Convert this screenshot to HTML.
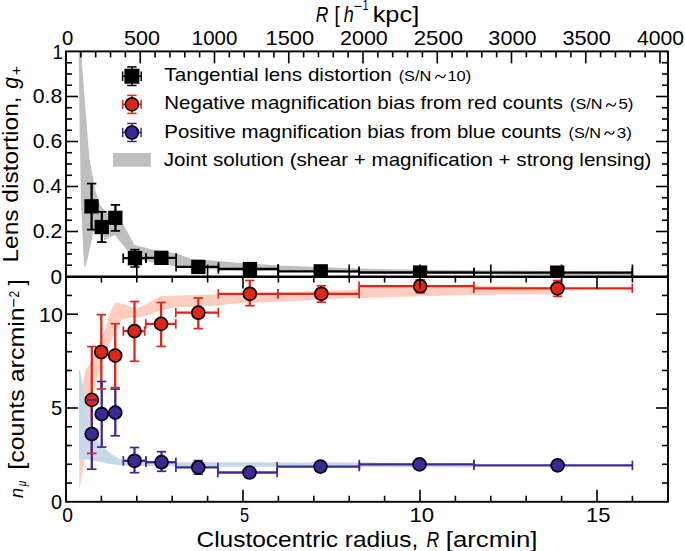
<!DOCTYPE html>
<html><head><meta charset="utf-8"><style>
html,body{margin:0;padding:0;background:#fff;}
svg{display:block;}
text{font-family:"Liberation Sans",sans-serif;fill:#000;}
</style></head><body>
<svg width="685" height="551" viewBox="0 0 685 551">
<defs><clipPath id="ctop"><rect x="0" y="0" width="685" height="276.50"/></clipPath></defs>
<rect width="685" height="551" fill="#fff"/>
<polygon points="78.7,51.4 81.2,51.4 85.0,104.0 89.5,159.0 95.5,191.0 100.4,205.4 105.0,211.0 110.0,215.0 116.0,220.0 123.0,224.0 134.5,245.0 154.0,250.0 176.0,253.3 191.0,258.8 217.6,261.0 244.0,263.2 280.0,265.6 316.0,267.0 359.0,268.6 400.0,269.4 474.0,270.3 560.0,271.0 632.0,271.5 632.0,275.5 560.0,275.3 474.0,274.0 400.0,273.6 359.0,273.0 316.0,272.2 280.0,270.5 244.0,270.5 191.0,268.5 176.0,266.5 150.0,262.0 140.0,259.0 127.5,251.0 115.0,235.0 110.0,237.0 104.5,240.5 103.0,233.0 95.0,231.5 93.4,232.0 91.0,243.0 88.7,254.0 86.6,262.5 84.8,268.7 83.4,254.4 81.0,200.0 80.0,150.0 79.2,100.0 78.7,51.4" fill="#bfbfbf"/>
<polygon points="79.0,400.0 83.8,378.0 85.8,370.0 91.4,361.3 94.7,350.4 98.0,345.0 103.4,334.3 106.2,326.2 108.3,318.0 115.2,302.3 125.0,304.5 130.0,306.5 136.6,309.0 150.0,302.0 161.0,296.0 218.0,294.3 235.0,294.0 250.0,293.0 320.0,291.0 355.0,290.0 362.0,286.3 420.0,285.5 474.0,285.5 520.0,286.5 557.0,287.0 557.0,294.5 520.0,294.5 474.0,295.0 420.0,296.3 359.0,298.0 340.0,298.5 320.0,299.8 250.0,303.0 230.0,304.1 218.0,305.4 198.0,306.8 175.0,307.3 161.0,310.5 146.8,315.5 136.6,318.0 130.0,317.4 121.7,320.0 114.0,334.0 108.9,345.2 104.0,360.0 99.5,370.0 93.6,391.6 90.0,420.0 86.0,445.0 84.7,459.0 79.3,490.0" fill="#fdcdbf"/>
<polygon points="79.0,370.0 80.0,370.0 90.0,427.0 95.6,436.0 99.3,443.6 112.0,454.5 120.0,459.3 135.0,460.8 150.0,461.5 180.0,462.2 359.0,462.6 474.0,463.6 474.0,467.3 359.0,466.9 180.0,466.5 150.0,466.1 124.0,465.5 109.0,464.0 91.0,459.8 79.0,459.3" fill="#c6d9ea"/>
<g clip-path="url(#ctop)">
<line x1="91.6" y1="183.6" x2="91.6" y2="229.6" stroke="#000" stroke-width="2.3"/>
<line x1="101.8" y1="211.8" x2="101.8" y2="242.1" stroke="#000" stroke-width="2.3"/>
<line x1="115.4" y1="204.9" x2="115.4" y2="230.9" stroke="#000" stroke-width="2.3"/>
<line x1="123.2" y1="258.2" x2="145.9" y2="258.2" stroke="#000" stroke-width="2.3"/><line x1="134.9" y1="249.7" x2="134.9" y2="267.0" stroke="#000" stroke-width="2.3"/>
<line x1="145.9" y1="257.9" x2="176.1" y2="257.9" stroke="#000" stroke-width="2.3"/>
<line x1="176.1" y1="266.9" x2="218.5" y2="266.9" stroke="#000" stroke-width="2.3"/>
<line x1="218.4" y1="269.0" x2="278.0" y2="269.0" stroke="#000" stroke-width="2.3"/>
<line x1="278.0" y1="271.3" x2="359.1" y2="271.3" stroke="#000" stroke-width="2.3"/>
<line x1="359.1" y1="272.5" x2="474.0" y2="272.5" stroke="#000" stroke-width="2.3"/>
<line x1="474.0" y1="272.6" x2="632.3" y2="272.6" stroke="#000" stroke-width="2.3"/>
<line x1="86.9" y1="183.6" x2="96.3" y2="183.6" stroke="#000" stroke-width="1.7"/><line x1="86.9" y1="229.6" x2="96.3" y2="229.6" stroke="#000" stroke-width="1.7"/>
<line x1="97.1" y1="211.8" x2="106.5" y2="211.8" stroke="#000" stroke-width="1.7"/><line x1="97.1" y1="242.1" x2="106.5" y2="242.1" stroke="#000" stroke-width="1.7"/>
<line x1="110.7" y1="204.9" x2="120.1" y2="204.9" stroke="#000" stroke-width="1.7"/><line x1="110.7" y1="230.9" x2="120.1" y2="230.9" stroke="#000" stroke-width="1.7"/>
<line x1="123.2" y1="253.5" x2="123.2" y2="262.9" stroke="#000" stroke-width="1.7"/><line x1="145.9" y1="253.5" x2="145.9" y2="262.9" stroke="#000" stroke-width="1.7"/><line x1="130.2" y1="249.7" x2="139.6" y2="249.7" stroke="#000" stroke-width="1.7"/><line x1="130.2" y1="267.0" x2="139.6" y2="267.0" stroke="#000" stroke-width="1.7"/>
<line x1="145.9" y1="253.2" x2="145.9" y2="262.6" stroke="#000" stroke-width="1.7"/><line x1="176.1" y1="253.2" x2="176.1" y2="262.6" stroke="#000" stroke-width="1.7"/>
<line x1="176.1" y1="262.2" x2="176.1" y2="271.6" stroke="#000" stroke-width="1.7"/><line x1="218.5" y1="262.2" x2="218.5" y2="271.6" stroke="#000" stroke-width="1.7"/>
<line x1="218.4" y1="264.3" x2="218.4" y2="273.7" stroke="#000" stroke-width="1.7"/><line x1="278.0" y1="264.3" x2="278.0" y2="273.7" stroke="#000" stroke-width="1.7"/>
<line x1="278.0" y1="266.6" x2="278.0" y2="276.0" stroke="#000" stroke-width="1.7"/><line x1="359.1" y1="266.6" x2="359.1" y2="276.0" stroke="#000" stroke-width="1.7"/>
<line x1="359.1" y1="267.8" x2="359.1" y2="277.2" stroke="#000" stroke-width="1.7"/><line x1="474.0" y1="267.8" x2="474.0" y2="277.2" stroke="#000" stroke-width="1.7"/>
<line x1="474.0" y1="267.9" x2="474.0" y2="277.3" stroke="#000" stroke-width="1.7"/><line x1="632.3" y1="267.9" x2="632.3" y2="277.3" stroke="#000" stroke-width="1.7"/>
<rect x="84.4" y="199.2" width="14.3" height="14.3" fill="#000"/>
<rect x="94.6" y="219.9" width="14.3" height="14.3" fill="#000"/>
<rect x="108.2" y="210.7" width="14.3" height="14.3" fill="#000"/>
<rect x="127.8" y="251.0" width="14.3" height="14.3" fill="#000"/>
<rect x="154.2" y="250.7" width="14.3" height="14.3" fill="#000"/>
<rect x="191.2" y="259.8" width="14.3" height="14.3" fill="#000"/>
<rect x="242.8" y="261.9" width="14.3" height="14.3" fill="#000"/>
<rect x="313.6" y="264.2" width="14.3" height="14.3" fill="#000"/>
<rect x="412.9" y="265.4" width="14.3" height="14.3" fill="#000"/>
<rect x="550.1" y="265.5" width="14.3" height="14.3" fill="#000"/>
</g>
<line x1="91.8" y1="346.6" x2="91.8" y2="453.4" stroke="#e0261b" stroke-width="2.3"/>
<line x1="101.3" y1="314.7" x2="101.3" y2="389.0" stroke="#e0261b" stroke-width="2.3"/>
<line x1="115.2" y1="323.7" x2="115.2" y2="387.6" stroke="#e0261b" stroke-width="2.3"/>
<line x1="123.3" y1="331.1" x2="144.7" y2="331.1" stroke="#e0261b" stroke-width="2.3"/><line x1="134.5" y1="301.5" x2="134.5" y2="361.3" stroke="#e0261b" stroke-width="2.3"/>
<line x1="145.8" y1="323.9" x2="175.8" y2="323.9" stroke="#e0261b" stroke-width="2.3"/><line x1="161.1" y1="302.5" x2="161.1" y2="346.4" stroke="#e0261b" stroke-width="2.3"/>
<line x1="175.8" y1="312.7" x2="218.3" y2="312.7" stroke="#e0261b" stroke-width="2.3"/><line x1="198.3" y1="298.0" x2="198.3" y2="328.6" stroke="#e0261b" stroke-width="2.3"/>
<line x1="218.3" y1="293.8" x2="277.8" y2="293.8" stroke="#e0261b" stroke-width="2.3"/><line x1="249.8" y1="280.5" x2="249.8" y2="305.7" stroke="#e0261b" stroke-width="2.3"/>
<line x1="277.8" y1="293.8" x2="359.1" y2="293.8" stroke="#e0261b" stroke-width="2.3"/><line x1="321.3" y1="285.8" x2="321.3" y2="302.2" stroke="#e0261b" stroke-width="2.3"/>
<line x1="359.1" y1="286.2" x2="473.8" y2="286.2" stroke="#e0261b" stroke-width="2.3"/><line x1="420.2" y1="279.8" x2="420.2" y2="292.8" stroke="#e0261b" stroke-width="2.3"/>
<line x1="473.8" y1="288.4" x2="632.3" y2="288.4" stroke="#e0261b" stroke-width="2.3"/><line x1="557.5" y1="280.5" x2="557.5" y2="296.3" stroke="#e0261b" stroke-width="2.3"/>
<line x1="91.8" y1="400.0" x2="91.8" y2="469.2" stroke="#3a2a97" stroke-width="2.3"/>
<line x1="101.7" y1="381.5" x2="101.7" y2="447.1" stroke="#3a2a97" stroke-width="2.3"/>
<line x1="115.3" y1="389.1" x2="115.3" y2="435.8" stroke="#3a2a97" stroke-width="2.3"/>
<line x1="123.3" y1="460.8" x2="145.9" y2="460.8" stroke="#3a2a97" stroke-width="2.3"/><line x1="134.5" y1="447.5" x2="134.5" y2="472.7" stroke="#3a2a97" stroke-width="2.3"/>
<line x1="145.9" y1="462.2" x2="175.9" y2="462.2" stroke="#3a2a97" stroke-width="2.3"/><line x1="161.5" y1="451.7" x2="161.5" y2="471.3" stroke="#3a2a97" stroke-width="2.3"/>
<line x1="175.9" y1="467.4" x2="217.9" y2="467.4" stroke="#3a2a97" stroke-width="2.3"/><line x1="198.3" y1="460.6" x2="198.3" y2="474.2" stroke="#3a2a97" stroke-width="2.3"/>
<line x1="217.9" y1="472.5" x2="277.1" y2="472.5" stroke="#3a2a97" stroke-width="2.3"/>
<line x1="277.1" y1="466.6" x2="359.3" y2="466.6" stroke="#3a2a97" stroke-width="2.3"/>
<line x1="359.3" y1="464.4" x2="473.9" y2="464.4" stroke="#3a2a97" stroke-width="2.3"/>
<line x1="473.9" y1="465.4" x2="632.4" y2="465.4" stroke="#3a2a97" stroke-width="2.3"/>
<line x1="87.0" y1="346.6" x2="96.5" y2="346.6" stroke="#e0261b" stroke-width="1.7"/><line x1="87.0" y1="453.4" x2="96.5" y2="453.4" stroke="#e0261b" stroke-width="1.7"/>
<line x1="96.6" y1="314.7" x2="106.0" y2="314.7" stroke="#e0261b" stroke-width="1.7"/><line x1="96.6" y1="389.0" x2="106.0" y2="389.0" stroke="#e0261b" stroke-width="1.7"/>
<line x1="110.5" y1="323.7" x2="119.9" y2="323.7" stroke="#e0261b" stroke-width="1.7"/><line x1="110.5" y1="387.6" x2="119.9" y2="387.6" stroke="#e0261b" stroke-width="1.7"/>
<line x1="123.3" y1="326.4" x2="123.3" y2="335.8" stroke="#e0261b" stroke-width="1.7"/><line x1="144.7" y1="326.4" x2="144.7" y2="335.8" stroke="#e0261b" stroke-width="1.7"/><line x1="129.8" y1="301.5" x2="139.2" y2="301.5" stroke="#e0261b" stroke-width="1.7"/><line x1="129.8" y1="361.3" x2="139.2" y2="361.3" stroke="#e0261b" stroke-width="1.7"/>
<line x1="145.8" y1="319.2" x2="145.8" y2="328.6" stroke="#e0261b" stroke-width="1.7"/><line x1="175.8" y1="319.2" x2="175.8" y2="328.6" stroke="#e0261b" stroke-width="1.7"/><line x1="156.4" y1="302.5" x2="165.8" y2="302.5" stroke="#e0261b" stroke-width="1.7"/><line x1="156.4" y1="346.4" x2="165.8" y2="346.4" stroke="#e0261b" stroke-width="1.7"/>
<line x1="175.8" y1="308.0" x2="175.8" y2="317.4" stroke="#e0261b" stroke-width="1.7"/><line x1="218.3" y1="308.0" x2="218.3" y2="317.4" stroke="#e0261b" stroke-width="1.7"/><line x1="193.6" y1="298.0" x2="203.0" y2="298.0" stroke="#e0261b" stroke-width="1.7"/><line x1="193.6" y1="328.6" x2="203.0" y2="328.6" stroke="#e0261b" stroke-width="1.7"/>
<line x1="218.3" y1="289.1" x2="218.3" y2="298.5" stroke="#e0261b" stroke-width="1.7"/><line x1="277.8" y1="289.1" x2="277.8" y2="298.5" stroke="#e0261b" stroke-width="1.7"/><line x1="245.1" y1="280.5" x2="254.5" y2="280.5" stroke="#e0261b" stroke-width="1.7"/><line x1="245.1" y1="305.7" x2="254.5" y2="305.7" stroke="#e0261b" stroke-width="1.7"/>
<line x1="277.8" y1="289.1" x2="277.8" y2="298.5" stroke="#e0261b" stroke-width="1.7"/><line x1="359.1" y1="289.1" x2="359.1" y2="298.5" stroke="#e0261b" stroke-width="1.7"/><line x1="316.6" y1="285.8" x2="326.0" y2="285.8" stroke="#e0261b" stroke-width="1.7"/><line x1="316.6" y1="302.2" x2="326.0" y2="302.2" stroke="#e0261b" stroke-width="1.7"/>
<line x1="359.1" y1="281.5" x2="359.1" y2="290.9" stroke="#e0261b" stroke-width="1.7"/><line x1="473.8" y1="281.5" x2="473.8" y2="290.9" stroke="#e0261b" stroke-width="1.7"/><line x1="415.5" y1="279.8" x2="424.9" y2="279.8" stroke="#e0261b" stroke-width="1.7"/><line x1="415.5" y1="292.8" x2="424.9" y2="292.8" stroke="#e0261b" stroke-width="1.7"/>
<line x1="473.8" y1="283.7" x2="473.8" y2="293.1" stroke="#e0261b" stroke-width="1.7"/><line x1="632.3" y1="283.7" x2="632.3" y2="293.1" stroke="#e0261b" stroke-width="1.7"/><line x1="552.8" y1="280.5" x2="562.2" y2="280.5" stroke="#e0261b" stroke-width="1.7"/><line x1="552.8" y1="296.3" x2="562.2" y2="296.3" stroke="#e0261b" stroke-width="1.7"/>
<circle cx="91.8" cy="399.9" r="6.5" fill="#e0261b" stroke="#000" stroke-width="1.7"/>
<circle cx="101.3" cy="352.0" r="6.5" fill="#e0261b" stroke="#000" stroke-width="1.7"/>
<circle cx="115.2" cy="355.6" r="6.5" fill="#e0261b" stroke="#000" stroke-width="1.7"/>
<circle cx="134.5" cy="331.1" r="6.5" fill="#e0261b" stroke="#000" stroke-width="1.7"/>
<circle cx="161.1" cy="323.9" r="6.5" fill="#e0261b" stroke="#000" stroke-width="1.7"/>
<circle cx="198.3" cy="312.7" r="6.5" fill="#e0261b" stroke="#000" stroke-width="1.7"/>
<circle cx="249.8" cy="293.8" r="6.5" fill="#e0261b" stroke="#000" stroke-width="1.7"/>
<circle cx="321.3" cy="293.8" r="6.5" fill="#e0261b" stroke="#000" stroke-width="1.7"/>
<circle cx="420.2" cy="286.2" r="6.5" fill="#e0261b" stroke="#000" stroke-width="1.7"/>
<circle cx="557.5" cy="288.4" r="6.5" fill="#e0261b" stroke="#000" stroke-width="1.7"/>
<line x1="87.0" y1="400.0" x2="96.5" y2="400.0" stroke="#3a2a97" stroke-width="1.7"/><line x1="87.0" y1="469.2" x2="96.5" y2="469.2" stroke="#3a2a97" stroke-width="1.7"/>
<line x1="97.0" y1="381.5" x2="106.4" y2="381.5" stroke="#3a2a97" stroke-width="1.7"/><line x1="97.0" y1="447.1" x2="106.4" y2="447.1" stroke="#3a2a97" stroke-width="1.7"/>
<line x1="110.6" y1="389.1" x2="120.0" y2="389.1" stroke="#3a2a97" stroke-width="1.7"/><line x1="110.6" y1="435.8" x2="120.0" y2="435.8" stroke="#3a2a97" stroke-width="1.7"/>
<line x1="123.3" y1="456.1" x2="123.3" y2="465.5" stroke="#3a2a97" stroke-width="1.7"/><line x1="145.9" y1="456.1" x2="145.9" y2="465.5" stroke="#3a2a97" stroke-width="1.7"/><line x1="129.8" y1="447.5" x2="139.2" y2="447.5" stroke="#3a2a97" stroke-width="1.7"/><line x1="129.8" y1="472.7" x2="139.2" y2="472.7" stroke="#3a2a97" stroke-width="1.7"/>
<line x1="145.9" y1="457.5" x2="145.9" y2="466.9" stroke="#3a2a97" stroke-width="1.7"/><line x1="175.9" y1="457.5" x2="175.9" y2="466.9" stroke="#3a2a97" stroke-width="1.7"/><line x1="156.8" y1="451.7" x2="166.2" y2="451.7" stroke="#3a2a97" stroke-width="1.7"/><line x1="156.8" y1="471.3" x2="166.2" y2="471.3" stroke="#3a2a97" stroke-width="1.7"/>
<line x1="175.9" y1="462.7" x2="175.9" y2="472.1" stroke="#3a2a97" stroke-width="1.7"/><line x1="217.9" y1="462.7" x2="217.9" y2="472.1" stroke="#3a2a97" stroke-width="1.7"/><line x1="193.6" y1="460.6" x2="203.0" y2="460.6" stroke="#3a2a97" stroke-width="1.7"/><line x1="193.6" y1="474.2" x2="203.0" y2="474.2" stroke="#3a2a97" stroke-width="1.7"/>
<line x1="217.9" y1="467.8" x2="217.9" y2="477.2" stroke="#3a2a97" stroke-width="1.7"/><line x1="277.1" y1="467.8" x2="277.1" y2="477.2" stroke="#3a2a97" stroke-width="1.7"/>
<line x1="277.1" y1="461.9" x2="277.1" y2="471.3" stroke="#3a2a97" stroke-width="1.7"/><line x1="359.3" y1="461.9" x2="359.3" y2="471.3" stroke="#3a2a97" stroke-width="1.7"/>
<line x1="359.3" y1="459.7" x2="359.3" y2="469.1" stroke="#3a2a97" stroke-width="1.7"/><line x1="473.9" y1="459.7" x2="473.9" y2="469.1" stroke="#3a2a97" stroke-width="1.7"/>
<line x1="473.9" y1="460.7" x2="473.9" y2="470.1" stroke="#3a2a97" stroke-width="1.7"/><line x1="632.4" y1="460.7" x2="632.4" y2="470.1" stroke="#3a2a97" stroke-width="1.7"/>
<circle cx="91.8" cy="434.0" r="6.5" fill="#3a2a97" stroke="#000" stroke-width="1.7"/>
<circle cx="101.7" cy="414.1" r="6.5" fill="#3a2a97" stroke="#000" stroke-width="1.7"/>
<circle cx="115.3" cy="412.6" r="6.5" fill="#3a2a97" stroke="#000" stroke-width="1.7"/>
<circle cx="134.5" cy="460.8" r="6.5" fill="#3a2a97" stroke="#000" stroke-width="1.7"/>
<circle cx="161.5" cy="462.2" r="6.5" fill="#3a2a97" stroke="#000" stroke-width="1.7"/>
<circle cx="198.3" cy="467.4" r="6.5" fill="#3a2a97" stroke="#000" stroke-width="1.7"/>
<circle cx="249.5" cy="472.5" r="6.5" fill="#3a2a97" stroke="#000" stroke-width="1.7"/>
<circle cx="320.5" cy="466.6" r="6.5" fill="#3a2a97" stroke="#000" stroke-width="1.7"/>
<circle cx="419.5" cy="464.4" r="6.5" fill="#3a2a97" stroke="#000" stroke-width="1.7"/>
<circle cx="557.6" cy="465.4" r="6.5" fill="#3a2a97" stroke="#000" stroke-width="1.7"/>
<line x1="80.85" y1="51.40" x2="80.85" y2="57.40" stroke="#000" stroke-width="1.6"/>
<line x1="95.70" y1="51.40" x2="95.70" y2="57.40" stroke="#000" stroke-width="1.6"/>
<line x1="110.55" y1="51.40" x2="110.55" y2="57.40" stroke="#000" stroke-width="1.6"/>
<line x1="125.40" y1="51.40" x2="125.40" y2="57.40" stroke="#000" stroke-width="1.6"/>
<line x1="140.25" y1="51.40" x2="140.25" y2="63.40" stroke="#000" stroke-width="1.6"/>
<line x1="155.10" y1="51.40" x2="155.10" y2="57.40" stroke="#000" stroke-width="1.6"/>
<line x1="169.95" y1="51.40" x2="169.95" y2="57.40" stroke="#000" stroke-width="1.6"/>
<line x1="184.80" y1="51.40" x2="184.80" y2="57.40" stroke="#000" stroke-width="1.6"/>
<line x1="199.65" y1="51.40" x2="199.65" y2="57.40" stroke="#000" stroke-width="1.6"/>
<line x1="214.50" y1="51.40" x2="214.50" y2="63.40" stroke="#000" stroke-width="1.6"/>
<line x1="229.35" y1="51.40" x2="229.35" y2="57.40" stroke="#000" stroke-width="1.6"/>
<line x1="244.20" y1="51.40" x2="244.20" y2="57.40" stroke="#000" stroke-width="1.6"/>
<line x1="259.05" y1="51.40" x2="259.05" y2="57.40" stroke="#000" stroke-width="1.6"/>
<line x1="273.90" y1="51.40" x2="273.90" y2="57.40" stroke="#000" stroke-width="1.6"/>
<line x1="288.75" y1="51.40" x2="288.75" y2="63.40" stroke="#000" stroke-width="1.6"/>
<line x1="303.60" y1="51.40" x2="303.60" y2="57.40" stroke="#000" stroke-width="1.6"/>
<line x1="318.45" y1="51.40" x2="318.45" y2="57.40" stroke="#000" stroke-width="1.6"/>
<line x1="333.30" y1="51.40" x2="333.30" y2="57.40" stroke="#000" stroke-width="1.6"/>
<line x1="348.15" y1="51.40" x2="348.15" y2="57.40" stroke="#000" stroke-width="1.6"/>
<line x1="363.00" y1="51.40" x2="363.00" y2="63.40" stroke="#000" stroke-width="1.6"/>
<line x1="377.85" y1="51.40" x2="377.85" y2="57.40" stroke="#000" stroke-width="1.6"/>
<line x1="392.70" y1="51.40" x2="392.70" y2="57.40" stroke="#000" stroke-width="1.6"/>
<line x1="407.55" y1="51.40" x2="407.55" y2="57.40" stroke="#000" stroke-width="1.6"/>
<line x1="422.40" y1="51.40" x2="422.40" y2="57.40" stroke="#000" stroke-width="1.6"/>
<line x1="437.25" y1="51.40" x2="437.25" y2="63.40" stroke="#000" stroke-width="1.6"/>
<line x1="452.10" y1="51.40" x2="452.10" y2="57.40" stroke="#000" stroke-width="1.6"/>
<line x1="466.95" y1="51.40" x2="466.95" y2="57.40" stroke="#000" stroke-width="1.6"/>
<line x1="481.80" y1="51.40" x2="481.80" y2="57.40" stroke="#000" stroke-width="1.6"/>
<line x1="496.65" y1="51.40" x2="496.65" y2="57.40" stroke="#000" stroke-width="1.6"/>
<line x1="511.50" y1="51.40" x2="511.50" y2="63.40" stroke="#000" stroke-width="1.6"/>
<line x1="526.35" y1="51.40" x2="526.35" y2="57.40" stroke="#000" stroke-width="1.6"/>
<line x1="541.20" y1="51.40" x2="541.20" y2="57.40" stroke="#000" stroke-width="1.6"/>
<line x1="556.05" y1="51.40" x2="556.05" y2="57.40" stroke="#000" stroke-width="1.6"/>
<line x1="570.90" y1="51.40" x2="570.90" y2="57.40" stroke="#000" stroke-width="1.6"/>
<line x1="585.75" y1="51.40" x2="585.75" y2="63.40" stroke="#000" stroke-width="1.6"/>
<line x1="600.60" y1="51.40" x2="600.60" y2="57.40" stroke="#000" stroke-width="1.6"/>
<line x1="615.45" y1="51.40" x2="615.45" y2="57.40" stroke="#000" stroke-width="1.6"/>
<line x1="630.30" y1="51.40" x2="630.30" y2="57.40" stroke="#000" stroke-width="1.6"/>
<line x1="645.15" y1="51.40" x2="645.15" y2="57.40" stroke="#000" stroke-width="1.6"/>
<line x1="660.00" y1="51.40" x2="660.00" y2="63.40" stroke="#000" stroke-width="1.6"/>
<line x1="66.00" y1="265.25" x2="72.00" y2="265.25" stroke="#000" stroke-width="1.6"/>
<line x1="668.00" y1="265.25" x2="662.00" y2="265.25" stroke="#000" stroke-width="1.6"/>
<line x1="66.00" y1="254.00" x2="72.00" y2="254.00" stroke="#000" stroke-width="1.6"/>
<line x1="668.00" y1="254.00" x2="662.00" y2="254.00" stroke="#000" stroke-width="1.6"/>
<line x1="66.00" y1="242.75" x2="72.00" y2="242.75" stroke="#000" stroke-width="1.6"/>
<line x1="668.00" y1="242.75" x2="662.00" y2="242.75" stroke="#000" stroke-width="1.6"/>
<line x1="66.00" y1="231.50" x2="78.00" y2="231.50" stroke="#000" stroke-width="1.6"/>
<line x1="668.00" y1="231.50" x2="656.00" y2="231.50" stroke="#000" stroke-width="1.6"/>
<line x1="66.00" y1="220.25" x2="72.00" y2="220.25" stroke="#000" stroke-width="1.6"/>
<line x1="668.00" y1="220.25" x2="662.00" y2="220.25" stroke="#000" stroke-width="1.6"/>
<line x1="66.00" y1="209.00" x2="72.00" y2="209.00" stroke="#000" stroke-width="1.6"/>
<line x1="668.00" y1="209.00" x2="662.00" y2="209.00" stroke="#000" stroke-width="1.6"/>
<line x1="66.00" y1="197.75" x2="72.00" y2="197.75" stroke="#000" stroke-width="1.6"/>
<line x1="668.00" y1="197.75" x2="662.00" y2="197.75" stroke="#000" stroke-width="1.6"/>
<line x1="66.00" y1="186.50" x2="78.00" y2="186.50" stroke="#000" stroke-width="1.6"/>
<line x1="668.00" y1="186.50" x2="656.00" y2="186.50" stroke="#000" stroke-width="1.6"/>
<line x1="66.00" y1="175.25" x2="72.00" y2="175.25" stroke="#000" stroke-width="1.6"/>
<line x1="668.00" y1="175.25" x2="662.00" y2="175.25" stroke="#000" stroke-width="1.6"/>
<line x1="66.00" y1="164.00" x2="72.00" y2="164.00" stroke="#000" stroke-width="1.6"/>
<line x1="668.00" y1="164.00" x2="662.00" y2="164.00" stroke="#000" stroke-width="1.6"/>
<line x1="66.00" y1="152.75" x2="72.00" y2="152.75" stroke="#000" stroke-width="1.6"/>
<line x1="668.00" y1="152.75" x2="662.00" y2="152.75" stroke="#000" stroke-width="1.6"/>
<line x1="66.00" y1="141.50" x2="78.00" y2="141.50" stroke="#000" stroke-width="1.6"/>
<line x1="668.00" y1="141.50" x2="656.00" y2="141.50" stroke="#000" stroke-width="1.6"/>
<line x1="66.00" y1="130.25" x2="72.00" y2="130.25" stroke="#000" stroke-width="1.6"/>
<line x1="668.00" y1="130.25" x2="662.00" y2="130.25" stroke="#000" stroke-width="1.6"/>
<line x1="66.00" y1="119.00" x2="72.00" y2="119.00" stroke="#000" stroke-width="1.6"/>
<line x1="668.00" y1="119.00" x2="662.00" y2="119.00" stroke="#000" stroke-width="1.6"/>
<line x1="66.00" y1="107.75" x2="72.00" y2="107.75" stroke="#000" stroke-width="1.6"/>
<line x1="668.00" y1="107.75" x2="662.00" y2="107.75" stroke="#000" stroke-width="1.6"/>
<line x1="66.00" y1="96.50" x2="78.00" y2="96.50" stroke="#000" stroke-width="1.6"/>
<line x1="668.00" y1="96.50" x2="656.00" y2="96.50" stroke="#000" stroke-width="1.6"/>
<line x1="66.00" y1="85.25" x2="72.00" y2="85.25" stroke="#000" stroke-width="1.6"/>
<line x1="668.00" y1="85.25" x2="662.00" y2="85.25" stroke="#000" stroke-width="1.6"/>
<line x1="66.00" y1="74.00" x2="72.00" y2="74.00" stroke="#000" stroke-width="1.6"/>
<line x1="668.00" y1="74.00" x2="662.00" y2="74.00" stroke="#000" stroke-width="1.6"/>
<line x1="66.00" y1="62.75" x2="72.00" y2="62.75" stroke="#000" stroke-width="1.6"/>
<line x1="668.00" y1="62.75" x2="662.00" y2="62.75" stroke="#000" stroke-width="1.6"/>
<line x1="136.80" y1="276.50" x2="136.80" y2="264.50" stroke="#000" stroke-width="1.6"/>
<line x1="207.60" y1="276.50" x2="207.60" y2="264.50" stroke="#000" stroke-width="1.6"/>
<line x1="278.40" y1="276.50" x2="278.40" y2="264.50" stroke="#000" stroke-width="1.6"/>
<line x1="349.20" y1="276.50" x2="349.20" y2="264.50" stroke="#000" stroke-width="1.6"/>
<line x1="420.00" y1="276.50" x2="420.00" y2="264.50" stroke="#000" stroke-width="1.6"/>
<line x1="490.80" y1="276.50" x2="490.80" y2="264.50" stroke="#000" stroke-width="1.6"/>
<line x1="561.60" y1="276.50" x2="561.60" y2="264.50" stroke="#000" stroke-width="1.6"/>
<line x1="632.40" y1="276.50" x2="632.40" y2="264.50" stroke="#000" stroke-width="1.6"/>
<line x1="101.40" y1="276.50" x2="101.40" y2="282.50" stroke="#000" stroke-width="1.6"/>
<line x1="101.40" y1="501.80" x2="101.40" y2="495.80" stroke="#000" stroke-width="1.6"/>
<line x1="136.80" y1="276.50" x2="136.80" y2="282.50" stroke="#000" stroke-width="1.6"/>
<line x1="136.80" y1="501.80" x2="136.80" y2="495.80" stroke="#000" stroke-width="1.6"/>
<line x1="172.20" y1="276.50" x2="172.20" y2="282.50" stroke="#000" stroke-width="1.6"/>
<line x1="172.20" y1="501.80" x2="172.20" y2="495.80" stroke="#000" stroke-width="1.6"/>
<line x1="207.60" y1="276.50" x2="207.60" y2="282.50" stroke="#000" stroke-width="1.6"/>
<line x1="207.60" y1="501.80" x2="207.60" y2="495.80" stroke="#000" stroke-width="1.6"/>
<line x1="243.00" y1="276.50" x2="243.00" y2="288.50" stroke="#000" stroke-width="1.6"/>
<line x1="243.00" y1="501.80" x2="243.00" y2="489.80" stroke="#000" stroke-width="1.6"/>
<line x1="278.40" y1="276.50" x2="278.40" y2="282.50" stroke="#000" stroke-width="1.6"/>
<line x1="278.40" y1="501.80" x2="278.40" y2="495.80" stroke="#000" stroke-width="1.6"/>
<line x1="313.80" y1="276.50" x2="313.80" y2="282.50" stroke="#000" stroke-width="1.6"/>
<line x1="313.80" y1="501.80" x2="313.80" y2="495.80" stroke="#000" stroke-width="1.6"/>
<line x1="349.20" y1="276.50" x2="349.20" y2="282.50" stroke="#000" stroke-width="1.6"/>
<line x1="349.20" y1="501.80" x2="349.20" y2="495.80" stroke="#000" stroke-width="1.6"/>
<line x1="384.60" y1="276.50" x2="384.60" y2="282.50" stroke="#000" stroke-width="1.6"/>
<line x1="384.60" y1="501.80" x2="384.60" y2="495.80" stroke="#000" stroke-width="1.6"/>
<line x1="420.00" y1="276.50" x2="420.00" y2="288.50" stroke="#000" stroke-width="1.6"/>
<line x1="420.00" y1="501.80" x2="420.00" y2="489.80" stroke="#000" stroke-width="1.6"/>
<line x1="455.40" y1="276.50" x2="455.40" y2="282.50" stroke="#000" stroke-width="1.6"/>
<line x1="455.40" y1="501.80" x2="455.40" y2="495.80" stroke="#000" stroke-width="1.6"/>
<line x1="490.80" y1="276.50" x2="490.80" y2="282.50" stroke="#000" stroke-width="1.6"/>
<line x1="490.80" y1="501.80" x2="490.80" y2="495.80" stroke="#000" stroke-width="1.6"/>
<line x1="526.20" y1="276.50" x2="526.20" y2="282.50" stroke="#000" stroke-width="1.6"/>
<line x1="526.20" y1="501.80" x2="526.20" y2="495.80" stroke="#000" stroke-width="1.6"/>
<line x1="561.60" y1="276.50" x2="561.60" y2="282.50" stroke="#000" stroke-width="1.6"/>
<line x1="561.60" y1="501.80" x2="561.60" y2="495.80" stroke="#000" stroke-width="1.6"/>
<line x1="597.00" y1="276.50" x2="597.00" y2="288.50" stroke="#000" stroke-width="1.6"/>
<line x1="597.00" y1="501.80" x2="597.00" y2="489.80" stroke="#000" stroke-width="1.6"/>
<line x1="632.40" y1="276.50" x2="632.40" y2="282.50" stroke="#000" stroke-width="1.6"/>
<line x1="632.40" y1="501.80" x2="632.40" y2="495.80" stroke="#000" stroke-width="1.6"/>
<line x1="66.00" y1="483.04" x2="72.00" y2="483.04" stroke="#000" stroke-width="1.6"/>
<line x1="668.00" y1="483.04" x2="662.00" y2="483.04" stroke="#000" stroke-width="1.6"/>
<line x1="66.00" y1="464.28" x2="72.00" y2="464.28" stroke="#000" stroke-width="1.6"/>
<line x1="668.00" y1="464.28" x2="662.00" y2="464.28" stroke="#000" stroke-width="1.6"/>
<line x1="66.00" y1="445.52" x2="72.00" y2="445.52" stroke="#000" stroke-width="1.6"/>
<line x1="668.00" y1="445.52" x2="662.00" y2="445.52" stroke="#000" stroke-width="1.6"/>
<line x1="66.00" y1="426.76" x2="72.00" y2="426.76" stroke="#000" stroke-width="1.6"/>
<line x1="668.00" y1="426.76" x2="662.00" y2="426.76" stroke="#000" stroke-width="1.6"/>
<line x1="66.00" y1="408.00" x2="78.00" y2="408.00" stroke="#000" stroke-width="1.6"/>
<line x1="668.00" y1="408.00" x2="656.00" y2="408.00" stroke="#000" stroke-width="1.6"/>
<line x1="66.00" y1="389.24" x2="72.00" y2="389.24" stroke="#000" stroke-width="1.6"/>
<line x1="668.00" y1="389.24" x2="662.00" y2="389.24" stroke="#000" stroke-width="1.6"/>
<line x1="66.00" y1="370.48" x2="72.00" y2="370.48" stroke="#000" stroke-width="1.6"/>
<line x1="668.00" y1="370.48" x2="662.00" y2="370.48" stroke="#000" stroke-width="1.6"/>
<line x1="66.00" y1="351.72" x2="72.00" y2="351.72" stroke="#000" stroke-width="1.6"/>
<line x1="668.00" y1="351.72" x2="662.00" y2="351.72" stroke="#000" stroke-width="1.6"/>
<line x1="66.00" y1="332.96" x2="72.00" y2="332.96" stroke="#000" stroke-width="1.6"/>
<line x1="668.00" y1="332.96" x2="662.00" y2="332.96" stroke="#000" stroke-width="1.6"/>
<line x1="66.00" y1="314.20" x2="78.00" y2="314.20" stroke="#000" stroke-width="1.6"/>
<line x1="668.00" y1="314.20" x2="656.00" y2="314.20" stroke="#000" stroke-width="1.6"/>
<line x1="66.00" y1="295.44" x2="72.00" y2="295.44" stroke="#000" stroke-width="1.6"/>
<line x1="668.00" y1="295.44" x2="662.00" y2="295.44" stroke="#000" stroke-width="1.6"/>
<rect x="66.00" y="51.40" width="602.00" height="450.40" fill="none" stroke="#000" stroke-width="1.9"/>
<line x1="66.00" y1="276.80" x2="668.00" y2="276.80" stroke="#000" stroke-width="2.4"/>
<line x1="122.6" y1="76.2" x2="141.2" y2="76.2" stroke="#000" stroke-width="1.5"/><line x1="131.9" y1="66.9" x2="131.9" y2="85.5" stroke="#000" stroke-width="1.5"/><line x1="122.6" y1="71.5" x2="122.6" y2="80.9" stroke="#000" stroke-width="1.5"/><line x1="141.2" y1="71.5" x2="141.2" y2="80.9" stroke="#000" stroke-width="1.5"/><line x1="127.2" y1="66.9" x2="136.6" y2="66.9" stroke="#000" stroke-width="1.5"/><line x1="127.2" y1="85.5" x2="136.6" y2="85.5" stroke="#000" stroke-width="1.5"/>
<rect x="124.4" y="68.7" width="15.0" height="15.0" fill="#000"/>
<line x1="122.7" y1="104.4" x2="141.1" y2="104.4" stroke="#e0261b" stroke-width="1.5"/><line x1="131.9" y1="95.4" x2="131.9" y2="113.4" stroke="#e0261b" stroke-width="1.5"/><line x1="122.7" y1="99.7" x2="122.7" y2="109.1" stroke="#e0261b" stroke-width="1.5"/><line x1="141.1" y1="99.7" x2="141.1" y2="109.1" stroke="#e0261b" stroke-width="1.5"/><line x1="127.2" y1="95.4" x2="136.6" y2="95.4" stroke="#e0261b" stroke-width="1.5"/><line x1="127.2" y1="113.4" x2="136.6" y2="113.4" stroke="#e0261b" stroke-width="1.5"/>
<circle cx="131.9" cy="104.4" r="6.5" fill="#e0261b" stroke="#000" stroke-width="1.7"/>
<line x1="122.7" y1="132.5" x2="141.1" y2="132.5" stroke="#3a2a97" stroke-width="1.5"/><line x1="131.9" y1="123.5" x2="131.9" y2="141.5" stroke="#3a2a97" stroke-width="1.5"/><line x1="122.7" y1="127.8" x2="122.7" y2="137.2" stroke="#3a2a97" stroke-width="1.5"/><line x1="141.1" y1="127.8" x2="141.1" y2="137.2" stroke="#3a2a97" stroke-width="1.5"/><line x1="127.2" y1="123.5" x2="136.6" y2="123.5" stroke="#3a2a97" stroke-width="1.5"/><line x1="127.2" y1="141.5" x2="136.6" y2="141.5" stroke="#3a2a97" stroke-width="1.5"/>
<circle cx="131.9" cy="132.5" r="6.5" fill="#3a2a97" stroke="#000" stroke-width="1.7"/>
<rect x="113" y="153" width="37.8" height="13.7" fill="#bfbfbf"/>
<text x="61.91" y="45.20" font-size="20.60" textLength="11.29" lengthAdjust="spacingAndGlyphs">0</text>
<text x="124.04" y="45.20" font-size="20.60" textLength="35.90" lengthAdjust="spacingAndGlyphs">500</text>
<text x="191.84" y="45.20" font-size="20.60" textLength="45.45" lengthAdjust="spacingAndGlyphs">1000</text>
<text x="265.64" y="45.20" font-size="20.60" textLength="48.41" lengthAdjust="spacingAndGlyphs">1500</text>
<text x="340.02" y="45.20" font-size="20.60" textLength="47.82" lengthAdjust="spacingAndGlyphs">2000</text>
<text x="413.79" y="45.20" font-size="20.60" textLength="49.28" lengthAdjust="spacingAndGlyphs">2500</text>
<text x="488.38" y="45.20" font-size="20.60" textLength="48.07" lengthAdjust="spacingAndGlyphs">3000</text>
<text x="562.47" y="45.20" font-size="20.60" textLength="48.27" lengthAdjust="spacingAndGlyphs">3500</text>
<text x="636.92" y="45.20" font-size="20.60" textLength="47.01" lengthAdjust="spacingAndGlyphs">4000</text>
<text x="32.77" y="238.30" font-size="20.60" textLength="29.60" lengthAdjust="spacingAndGlyphs">0.2</text>
<text x="32.78" y="193.30" font-size="20.60" textLength="29.13" lengthAdjust="spacingAndGlyphs">0.4</text>
<text x="32.77" y="148.30" font-size="20.60" textLength="29.46" lengthAdjust="spacingAndGlyphs">0.6</text>
<text x="32.77" y="103.30" font-size="20.60" textLength="29.45" lengthAdjust="spacingAndGlyphs">0.8</text>
<text x="52.47" y="58.60" font-size="20.60" textLength="10.45" lengthAdjust="spacingAndGlyphs">1</text>
<text x="50.59" y="283.80" font-size="20.60" textLength="11.52" lengthAdjust="spacingAndGlyphs">0</text>
<text x="38.97" y="321.50" font-size="20.60" textLength="23.87" lengthAdjust="spacingAndGlyphs">10</text>
<text x="50.89" y="415.30" font-size="20.60" textLength="11.26" lengthAdjust="spacingAndGlyphs">5</text>
<text x="50.92" y="509.20" font-size="20.60" textLength="11.05" lengthAdjust="spacingAndGlyphs">0</text>
<text x="62.25" y="522.30" font-size="20.60" textLength="10.70" lengthAdjust="spacingAndGlyphs">0</text>
<text x="240.04" y="522.30" font-size="20.60" textLength="9.15" lengthAdjust="spacingAndGlyphs">5</text>
<text x="409.51" y="522.30" font-size="20.60" textLength="24.65" lengthAdjust="spacingAndGlyphs">10</text>
<text x="586.13" y="522.30" font-size="20.60" textLength="24.39" lengthAdjust="spacingAndGlyphs">15</text>
<text x="164.34" y="81.00" font-size="19.00" textLength="227.39" lengthAdjust="spacingAndGlyphs">Tangential lens distortion</text>
<text x="398.69" y="81.00" font-size="14.30" textLength="32.54" lengthAdjust="spacingAndGlyphs">(S/N</text>
<path d="M435.70,78.10 C436.48,75.30 438.24,74.50 440.40,76.50 S444.42,77.70 445.20,74.90" fill="none" stroke="#000" stroke-width="1.25" stroke-linecap="round"/>
<text x="447.45" y="81.00" font-size="14.30" textLength="23.77" lengthAdjust="spacingAndGlyphs">10)</text>
<text x="164.32" y="109.40" font-size="19.00" textLength="398.62" lengthAdjust="spacingAndGlyphs">Negative magnification bias from red counts</text>
<text x="570.09" y="109.40" font-size="14.30" textLength="32.54" lengthAdjust="spacingAndGlyphs">(S/N</text>
<path d="M606.50,106.50 C607.23,103.70 608.93,102.90 611.00,104.90 S614.87,106.10 615.60,103.30" fill="none" stroke="#000" stroke-width="1.25" stroke-linecap="round"/>
<text x="618.42" y="109.40" font-size="14.30" textLength="15.14" lengthAdjust="spacingAndGlyphs">5)</text>
<text x="164.33" y="137.60" font-size="19.00" textLength="397.01" lengthAdjust="spacingAndGlyphs">Positive magnification bias from blue counts</text>
<text x="568.49" y="137.60" font-size="14.30" textLength="32.54" lengthAdjust="spacingAndGlyphs">(S/N</text>
<path d="M604.90,134.70 C605.63,131.90 607.33,131.10 609.40,133.10 S613.27,134.30 614.00,131.50" fill="none" stroke="#000" stroke-width="1.25" stroke-linecap="round"/>
<text x="616.85" y="137.60" font-size="14.30" textLength="15.10" lengthAdjust="spacingAndGlyphs">3)</text>
<text x="163.68" y="165.80" font-size="19.00" textLength="487.80" lengthAdjust="spacingAndGlyphs">Joint solution (shear + magnification + strong lensing)</text>
<text x="315.66" y="22.00" font-size="21.30" textLength="12.57" lengthAdjust="spacingAndGlyphs" font-style="italic">R</text>
<text x="334.44" y="22.00" font-size="21.30" textLength="5.31" lengthAdjust="spacingAndGlyphs">[</text>
<text x="343.80" y="22.00" font-size="21.30" textLength="10.03" lengthAdjust="spacingAndGlyphs" font-style="italic">h</text>
<text x="353.46" y="11.20" font-size="14.60" textLength="8.77" lengthAdjust="spacingAndGlyphs">&#8722;</text>
<text x="362.55" y="10.20" font-size="14.60" textLength="6.19" lengthAdjust="spacingAndGlyphs">1</text>
<text x="372.69" y="22.00" font-size="21.30" textLength="46.52" lengthAdjust="spacingAndGlyphs">kpc]</text>
<text x="196.46" y="547.00" font-size="22.80" textLength="221.84" lengthAdjust="spacingAndGlyphs">Clustocentric radius,</text>
<text x="426.56" y="547.00" font-size="22.80" textLength="12.68" lengthAdjust="spacingAndGlyphs" font-style="italic">R</text>
<text x="445.76" y="547.00" font-size="22.80" textLength="91.68" lengthAdjust="spacingAndGlyphs">[arcmin]</text>
<text transform="translate(17.90,262.61) rotate(-90)" font-size="22.80" textLength="166.21" lengthAdjust="spacingAndGlyphs">Lens distortion,</text>
<text transform="translate(17.90,88.64) rotate(-90)" font-size="22.80" textLength="11.73" lengthAdjust="spacingAndGlyphs" font-style="italic">g</text>
<text transform="translate(21.40,75.37) rotate(-90)" font-size="15.40" textLength="9.26" lengthAdjust="spacingAndGlyphs">+</text>
<text transform="translate(22.80,497.90) rotate(-90)" font-size="18.50" textLength="10.13" lengthAdjust="spacingAndGlyphs" font-style="italic">n</text>
<text transform="translate(26.30,486.19) rotate(-90)" font-size="13.50" textLength="5.35" lengthAdjust="spacingAndGlyphs" font-style="italic">&#956;</text>
<text transform="translate(23.60,469.68) rotate(-90)" font-size="22.80" textLength="162.30" lengthAdjust="spacingAndGlyphs">[counts arcmin</text>
<text transform="translate(19.00,307.71) rotate(-90)" font-size="15.40" textLength="9.62" lengthAdjust="spacingAndGlyphs">&#8722;</text>
<text transform="translate(19.00,297.41) rotate(-90)" font-size="15.40" textLength="6.71" lengthAdjust="spacingAndGlyphs">2</text>
<text transform="translate(23.60,285.57) rotate(-90)" font-size="22.80" textLength="6.01" lengthAdjust="spacingAndGlyphs">]</text>
</svg>
</body></html>
